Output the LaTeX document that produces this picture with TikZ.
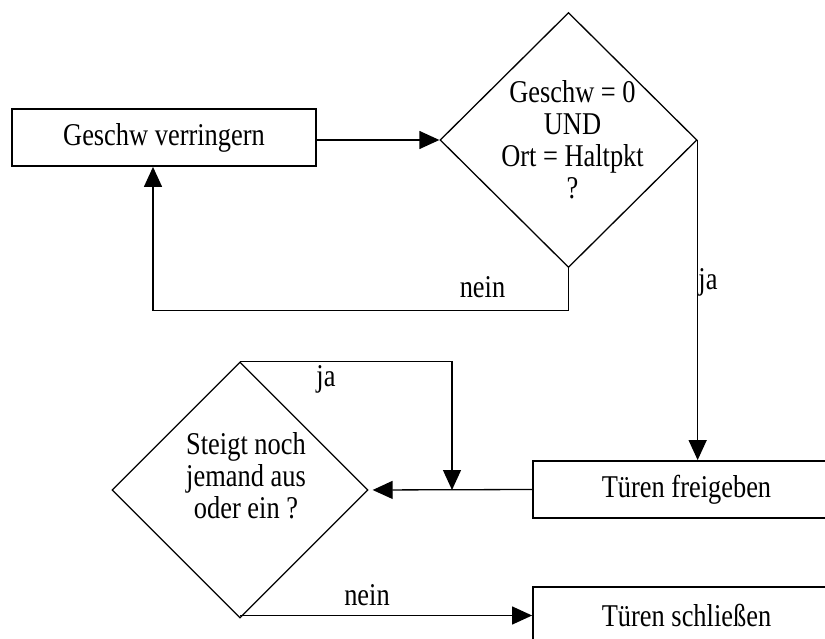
\documentclass[tikz,border=0pt]{standalone}
\usepackage{fontspec}
\setmainfont{Liberation Serif}[FakeStretch=0.833]
\usetikzlibrary{arrows.meta,shapes.geometric}
\begin{document}
\begin{tikzpicture}[x=1pt,y=-1pt,line width=1.3pt,
  txt/.style={font=\fontsize{31.7}{32}\selectfont, inner sep=0pt, align=center},
  lbl/.style={font=\fontsize{31.7}{32}\selectfont, inner sep=0pt, anchor=base},
  stepbox/.style={draw, rectangle, line width=1.8pt, minimum height=57pt, inner sep=0pt, txt},
  decision/.style={draw, diamond, line width=1.3pt, inner sep=0pt},
  arr/.style={-{Triangle[length=20pt,width=18pt]}}]
\useasboundingbox (0,0) rectangle (825,639);
\clip (0,0) rectangle (825,639);

% process boxes
\node[stepbox, minimum width=304pt] (slow) at (164,137.5) {Geschw verringern};
\node[stepbox, minimum width=307pt] (open) at (686.5,489.5) {Türen freigeben};
\node[stepbox, minimum width=307pt] (close) at (686.5,615.5) {Türen schließen};

% decisions
\node[decision, minimum width=257pt, minimum height=255pt] (halt) at (568.5,140) {};
\node[txt] (halttext) at (572.5,140) {Geschw = 0\\UND\\Ort = Haltpkt\\?};
\node[decision, minimum width=256pt, minimum height=256pt] (pass) at (240,490) {};
\node[txt] (passtext) at (246,475.5) {Steigt noch\\jemand aus\\oder ein ?};

% connectors
\coordinate (merge) at (452,490);
\draw[arr] (slow.east |- halt.west) -- (halt.west);
\draw[arr] (halt.south) -- ++(0,42) -| ([xshift=-11pt]slow.south);
\draw[arr] (halt.east) -- (halt.east |- open.north);
\draw[arr, shorten >=4pt] (open.west) -- (pass.east);
\draw[arr] (pass.north) -| (merge);
\draw[arr] (close.west -| pass.south) -- (close.west);

% branch labels
\node[lbl] (nein1) at (482.5,298) {nein};
\node[lbl] (ja1) at (708,290) {ja};
\node[lbl] (ja2) at (326,386) {ja};
\node[lbl] (nein2) at (367,605) {nein};
\end{tikzpicture}
\end{document}
